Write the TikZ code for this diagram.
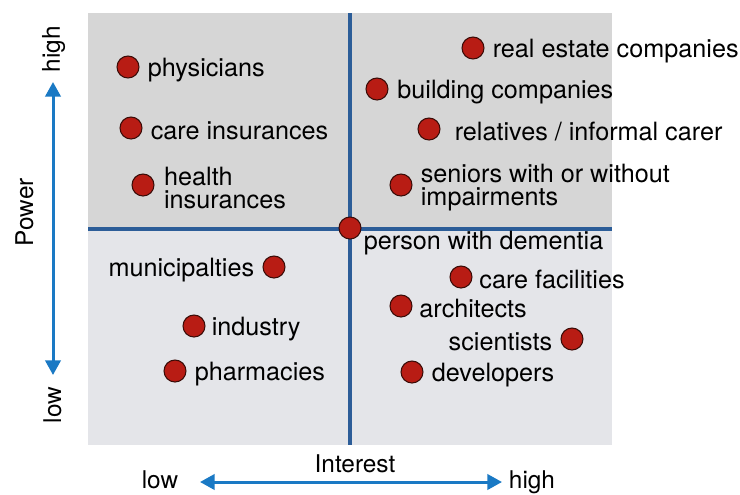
\documentclass[tikz,border=0pt]{standalone}
\usepackage{fontspec}
\setmainfont{TeX Gyre Heros}
\usepackage{tikz}
\usetikzlibrary{positioning}
\usetikzlibrary{arrows.meta}
\tikzstyle{plane} = [x = .75pt, y = -.75pt]
\definecolor{upperGray}{RGB}{214,214,214}
\definecolor{lowerGray}{RGB}{228,229,233}
\definecolor{axisBlue}{RGB}{26,121,196}
\definecolor{dividerBlue}{RGB}{44,93,152}
\definecolor{dotRed}{RGB}{184,28,20}
\definecolor{dotRim}{RGB}{58,12,8}
\tikzstyle{dividerLine} = [color=dividerBlue, line width=2.4pt]
\tikzstyle{axisArrow} = [color=axisBlue, line width=2.25pt, {Triangle[width=11.5pt,length=11pt]}-{Triangle[width=11.5pt,length=11pt]}]
\tikzstyle{dotStyle} = [circle, fill=dotRed, draw=dotRim, line width=.8pt, minimum size=16.5pt, inner sep=0pt]
\tikzstyle{labelStyle} = [font=\fontsize{18.9}{17.5}\selectfont, inner sep=0pt, align=left, yshift=-2pt]
\tikzstyle{axisText} = [font=\fontsize{18.3}{21}\selectfont, inner sep=0pt, anchor=base]
\newcommand{\stakeholder}[5]{
  \node [dotStyle] (#1) at (#2,#3) {};
  \node [labelStyle, #4 of #1] (#1Text) {#5};
}

\begin{document}
\begin{tikzpicture}[plane]
          \useasboundingbox (0,0) rectangle (740,494);
          \fill [upperGray] (88,13) rectangle (612,229);
          \fill [lowerGray] (88,229) rectangle (612,445);
          \draw [dividerLine] (350,13) -- (350,445);
          \draw [dividerLine] (88,229) -- (612,229);

          \stakeholder{physicians}{128}{67}{right=6pt}{physicians}
          \stakeholder{careInsurances}{131}{128}{right=6pt}{care insurances}
          \stakeholder{healthInsurances}{143}{185}{right=7pt}{health\\insurances}
          \stakeholder{realEstate}{473}{48}{right=6pt}{real estate companies}
          \stakeholder{building}{377}{89}{right=6.5pt}{building companies}
          \stakeholder{relatives}{429}{129}{right=10.5pt}{relatives / informal carer}
          \stakeholder{seniors}{401}{185}{right=6pt}{seniors with or without\\impairments}
          \stakeholder{municipalities}{274}{267}{left=6pt}{municipalties}
          \stakeholder{industry}{194}{326}{right=4.5pt}{industry}
          \stakeholder{pharmacies}{175}{371}{right=6pt}{pharmacies}
          \stakeholder{careFacilities}{461}{277}{right=5pt}{care facilities}
          \stakeholder{architects}{401}{306}{right=5pt}{architects}
          \stakeholder{scientists}{572}{339}{left=6pt}{scientists}
          \stakeholder{developers}{412}{372}{right=6pt}{developers}

          \node [dotStyle] (dementia) at (350,228) {};
          \node [labelStyle, right=1.5pt of dementia, yshift=-9.5pt] (dementiaText) {person with dementia};

          \node [axisText, rotate=90] (powerLabel) at (33,212) {Power};
          \node [axisText, rotate=90] (powerHigh) at (60,49) {high};
          \node [axisText, rotate=90] (powerLow) at (61,405) {low};
          \node [axisText] (interestLabel) at (355,472) {Interest};
          \node [axisText] (interestLow) at (160,488) {low};
          \node [axisText] (interestHigh) at (532,488) {high};

          \coordinate (powerTop) at (53,82);
          \coordinate (powerBottom) at (53,375);
          \coordinate (interestLeft) at (200,482);
          \coordinate (interestRight) at (502,482);
          \draw [axisArrow] (powerBottom) -- (powerTop);
          \draw [axisArrow] (interestLeft) -- (interestRight);
        \end{tikzpicture}
\end{document}
